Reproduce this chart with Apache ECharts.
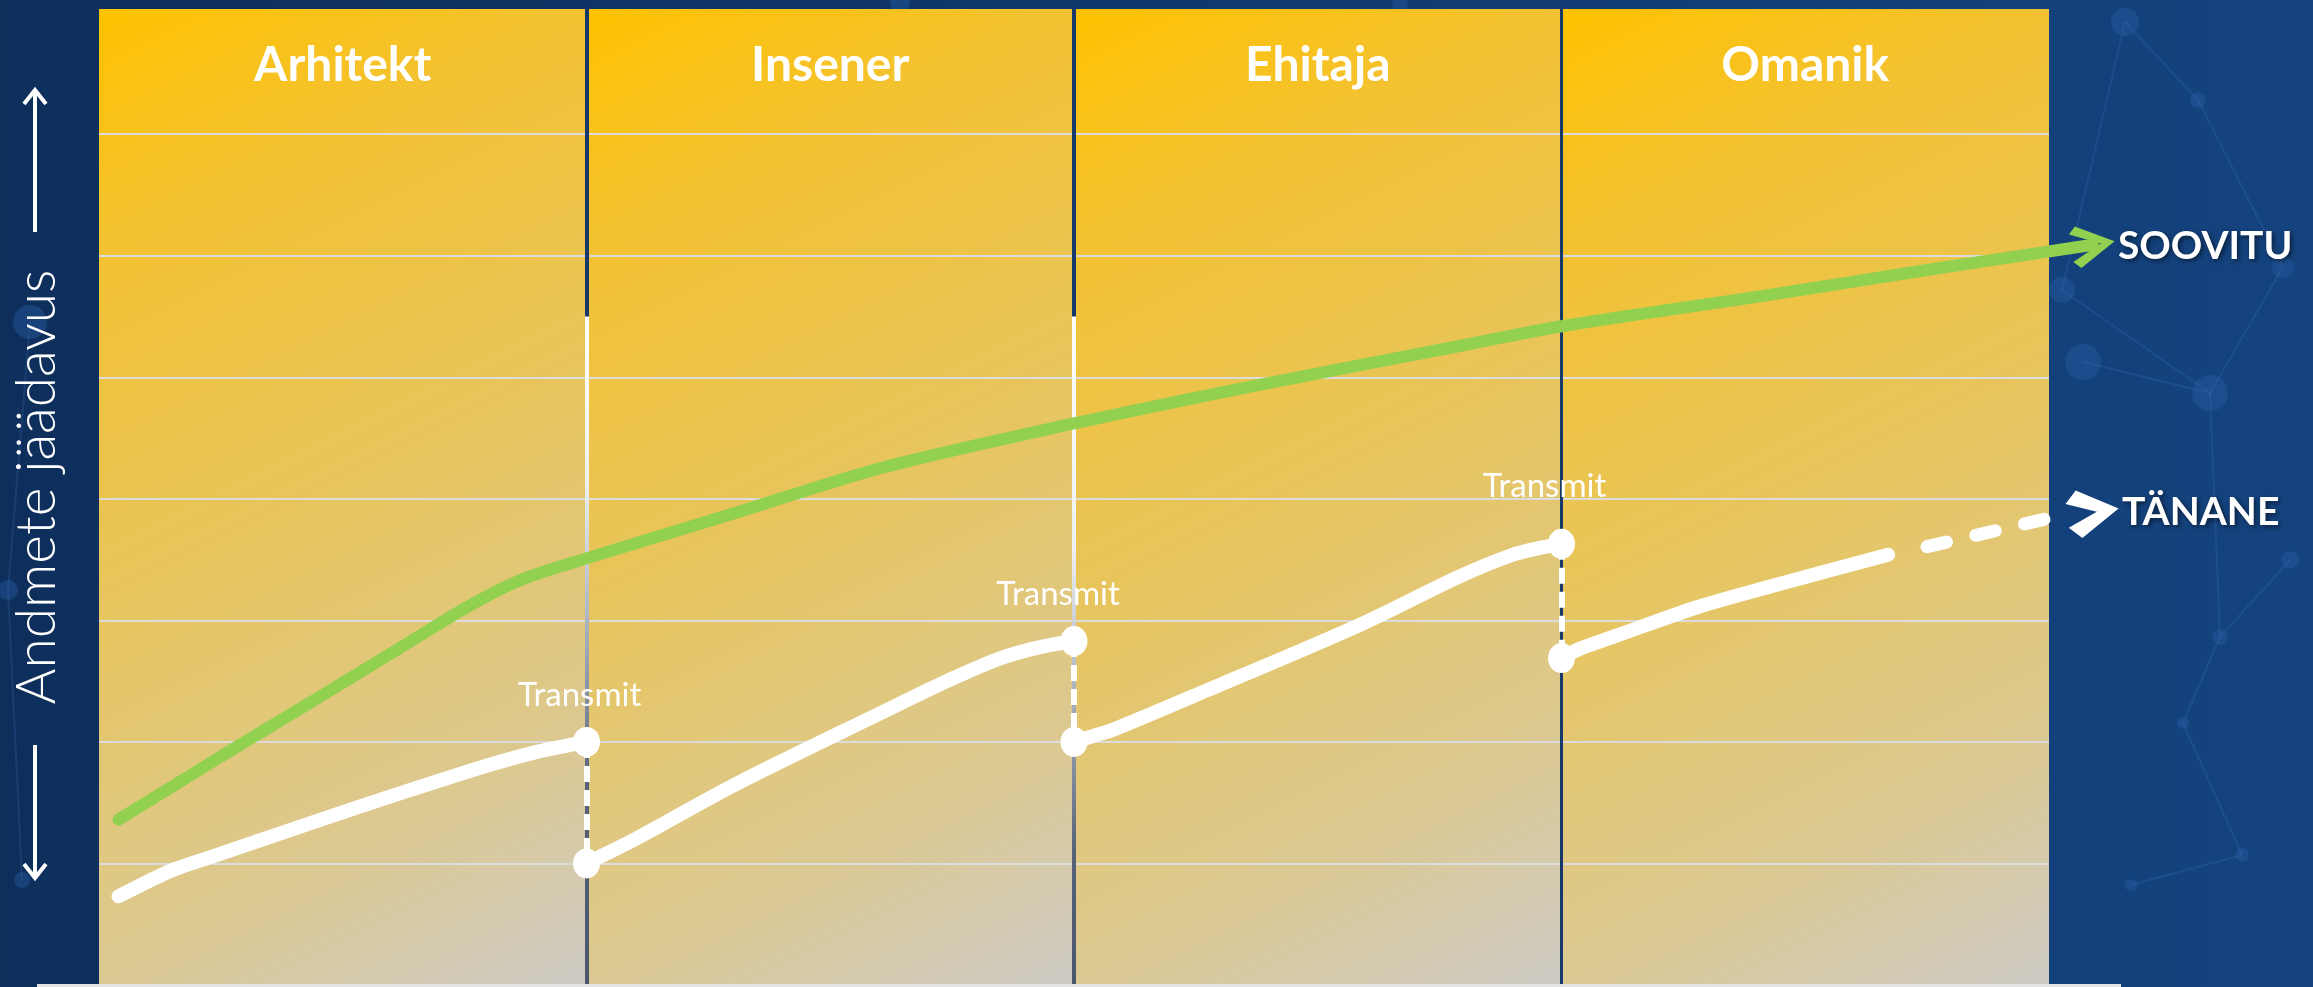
<!DOCTYPE html>
<html>
<head>
<meta charset="utf-8">
<script src="https://cdn.jsdelivr.net/npm/echarts@6/dist/echarts.min.js"></script>
<style>
  html, body { margin: 0; padding: 0; background: #10366a; }
  #chart { width: 2313px; height: 987px; }
</style>
</head>
<body>
<div id="chart"></div>
<script>
// ---------- data ----------
const columns = ['Arhitekt', 'Insener', 'Ehitaja', 'Omanik'];
const columnBounds = [0, 1, 2, 3, 4];
const yTicks = [0, 1, 2, 3, 4, 5, 6, 7, 8];

const soovituLine = [
  [0.04, 1.36], [0.25, 1.88], [0.44, 2.34], [0.62, 2.78], [0.76, 3.12], [0.87, 3.34],
  [1.00, 3.51], [1.31, 3.89], [1.61, 4.26], [2.00, 4.62], [2.37, 4.93], [2.82, 5.28],
  [3.00, 5.42], [3.43, 5.68], [3.73, 5.87], [4.09, 6.09]
];
const tananeSeg1 = [[0.04, 0.73], [0.12, 0.89], [0.16, 0.96], [0.25, 1.08], [0.44, 1.34], [0.62, 1.58], [0.80, 1.81], [0.90, 1.92], [0.96, 1.97], [1.00, 2.00]];
const tananeSeg2 = [[1.00, 1.00], [1.04, 1.08], [1.10, 1.20], [1.31, 1.66], [1.61, 2.25], [1.75, 2.52], [1.85, 2.69], [1.93, 2.78], [2.00, 2.83]];
const tananeSeg3 = [[2.00, 2.00], [2.04, 2.05], [2.08, 2.10], [2.27, 2.42], [2.59, 2.97], [2.79, 3.36], [2.90, 3.54], [2.96, 3.60], [3.00, 3.63]];
const tananeSeg4 = [[3.00, 2.69], [3.04, 2.77], [3.11, 2.87], [3.28, 3.11], [3.43, 3.28], [3.67, 3.54]];
const tananeDashed = [[3.69, 3.55], [4.01, 3.85]];
const tananeArrowPoint = [4.09, 3.89];
const transmitTop = [[1, 2.00], [2, 2.83], [3, 3.63]];
const transmitBottom = [[1, 1.00], [2, 2.00], [3, 2.69]];
const transmitLabel = 'Transmit';
const soovituLabel = 'SOOVITU';
const tananeLabel = 'TÄNANE';
const yName = 'Andmete jäädavus';

// ---------- styles ----------
const GREEN = '#92D050';
const WHITE = '#ffffff';
const NAVY = '#17396a';
const Y_TOP = 8.03;
const chevronGreen = 'path://M0,7 L7,0 L44,21 L7,42 L0,35 L30,21 Z';
const chevronWhite = 'path://M0,12 L12,0 L52,24 L12,48 L0,36 L30,24 Z';
const transmitLabelDistance = [15, 15, 26];
const transmitLabelShiftX = [-7, -16, -17];

const panelGradient = {
  type: 'linear', x: 0, y: 0, x2: 1, y2: 1,
  colorStops: [
    { offset: 0, color: '#FFC200' },
    { offset: 0.2, color: '#F3C232' },
    { offset: 0.5, color: '#E7C55E' },
    { offset: 0.8, color: '#DBC993' },
    { offset: 1, color: '#CECBC6' }
  ]
};
function dividerGradient(whiteEnd) {
  return {
    type: 'linear', x: 0, y: 0, x2: 0, y2: 1,
    colorStops: [
      { offset: 0, color: '#ffffff' },
      { offset: whiteEnd, color: '#eef0f2' },
      { offset: whiteEnd + 0.25, color: '#9ea6b4' },
      { offset: Math.min(1, whiteEnd + 0.45), color: '#56627a' },
      { offset: 1, color: '#4a566c' }
    ]
  };
}

const labelShadow = {
  textShadowColor: 'rgba(0,0,0,0.55)', textShadowBlur: 5, textShadowOffsetX: 2, textShadowOffsetY: 2
};

// background network decoration
const nodes = [
  [2125, 22, 14], [2198, 100, 8], [2283, 267, 11], [2062, 290, 13], [2083, 362, 18],
  [2210, 393, 18], [2220, 637, 8], [2183, 723, 6], [2242, 855, 7], [2131, 885, 6],
  [30, 322, 17], [8, 590, 10], [22, 880, 8], [900, 2, 10], [1400, 4, 8], [2290, 560, 9]
];
const links = [
  [0, 1], [1, 2], [3, 5], [4, 5], [2, 5], [5, 6], [6, 7], [7, 8], [8, 9], [6, 15], [10, 11], [11, 12], [0, 3]
];
const decoration = [];
nodes.forEach(n => decoration.push({
  type: 'circle', z: -10, silent: true,
  shape: { cx: n[0], cy: n[1], r: n[2] },
  style: { fill: 'rgba(40,95,165,0.40)' }
}));
links.forEach(l => decoration.push({
  type: 'line', z: -10, silent: true,
  shape: { x1: nodes[l[0]][0], y1: nodes[l[0]][1], x2: nodes[l[1]][0], y2: nodes[l[1]][1] },
  style: { stroke: 'rgba(60,110,180,0.25)', lineWidth: 2 }
}));
// y-axis arrows and base line
decoration.push(
  { type: 'line', silent: true, shape: { x1: 35, y1: 232, x2: 35, y2: 90 }, style: { stroke: WHITE, lineWidth: 4 } },
  { type: 'polyline', silent: true, shape: { points: [[24, 104], [35, 90], [46, 104]] }, style: { stroke: WHITE, lineWidth: 4, fill: null } },
  { type: 'line', silent: true, shape: { x1: 35, y1: 745, x2: 35, y2: 878 }, style: { stroke: WHITE, lineWidth: 4 } },
  { type: 'polyline', silent: true, shape: { points: [[24, 864], [35, 878], [46, 864]] }, style: { stroke: WHITE, lineWidth: 4, fill: null } },
  { type: 'rect', silent: true, z: 20, shape: { x: 37, y: 984, width: 2084, height: 3 }, style: { fill: '#e4e4e4' } }
);

const chart = echarts.init(document.getElementById('chart'), null, { renderer: 'canvas' });

const solidSeg = (data, name) => ({
  type: 'line', name: name, z: 5, data: data, smooth: 0.3, symbol: 'none', silent: true,
  clip: false,
  lineStyle: { color: WHITE, width: 14, cap: 'round' }
});

const option = {
  backgroundColor: {
    type: 'linear', x: 0, y: 0, x2: 1, y2: 0,
    colorStops: [
      { offset: 0, color: '#0e2f5c' },
      { offset: 0.5, color: '#10386c' },
      { offset: 1, color: '#14437f' }
    ]
  },
  animation: false,
  // x range extends past the last column so the arrows are not clipped
  grid: { left: 99, right: 20.25, top: 9, bottom: 2, containLabel: false },
  xAxis: {
    type: 'value', min: 0, max: 4.5, interval: 1,
    axisLine: { show: false }, axisTick: { show: false }, axisLabel: { show: false }, splitLine: { show: false }
  },
  yAxis: {
    type: 'value', min: yTicks[0], max: Y_TOP, interval: 1, z: 2,
    axisLine: { show: false }, axisTick: { show: false }, axisLabel: { show: false },
    splitLine: { show: false },
    name: yName, nameLocation: 'middle', nameRotate: 90, nameGap: 34,
    nameTextStyle: { color: WHITE, fontFamily: 'Lato', fontWeight: 300, fontSize: 55, padding: [0, 0, 0, 20] }
  },
  graphic: decoration,
  series: [
    {
      type: 'line', name: 'panel', z: 1, data: [], silent: true,
      markArea: {
        silent: true,
        itemStyle: { color: panelGradient, opacity: 1, borderWidth: 0 },
        label: {
          show: true, position: 'insideTop', distance: 33, formatter: '{b}',
          color: WHITE, fontFamily: 'Lato', fontWeight: 'bold', fontSize: 48
        },
        data: columns.map((c, i) => [{ name: c, xAxis: columnBounds[i], yAxis: 0 }, { xAxis: columnBounds[i + 1], yAxis: Y_TOP }])
      }
    },
    {
      type: 'line', name: 'gridlines', z: 2, data: [], silent: true,
      markLine: {
        silent: true, symbol: ['none', 'none'], label: { show: false },
        lineStyle: { color: '#dcdcdc', width: 2, type: 'solid' },
        data: yTicks.slice(1, -1).map(v => [{ coord: [columnBounds[0], v] }, { coord: [columnBounds[4], v] }])
      }
    },
    {
      type: 'line', name: 'dividers', z: 3, data: [], silent: true,
      markLine: {
        silent: true, symbol: ['none', 'none'], label: { show: false },
        data: [
          [{ coord: [columnBounds[1], Y_TOP], lineStyle: { color: NAVY, width: 4, type: 'solid' } }, { coord: [columnBounds[1], 0] }],
          [{ coord: [columnBounds[2], Y_TOP], lineStyle: { color: NAVY, width: 4, type: 'solid' } }, { coord: [columnBounds[2], 0] }],
          [{ coord: [columnBounds[3], Y_TOP], lineStyle: { color: NAVY, width: 3, type: 'solid' } }, { coord: [columnBounds[3], 0] }],
          [{ coord: [columnBounds[1], 5.5], lineStyle: { color: dividerGradient(0.25), width: 4, type: 'solid' } }, { coord: [columnBounds[1], 0] }],
          [{ coord: [columnBounds[2], 5.5], lineStyle: { color: dividerGradient(0.35), width: 4, type: 'solid' } }, { coord: [columnBounds[2], 0] }]
        ]
      }
    },
    {
      type: 'line', name: 'SOOVITU', z: 5, smooth: 0.3, silent: true, clip: false,
      symbol: 'none', showSymbol: true,
      lineStyle: { color: GREEN, width: 12, cap: 'round' },
      data: soovituLine.map((p, i) => i === soovituLine.length - 1 ? {
        value: p, symbol: chevronGreen, symbolSize: [44, 42], symbolRotate: 9,
        itemStyle: { color: GREEN },
        label: {
          show: true, position: 'right', distance: 0, formatter: soovituLabel,
          color: WHITE, fontFamily: 'Lato', fontWeight: 'bold', fontSize: 39, offset: [0, 2], ...labelShadow
        }
      } : { value: p, symbol: 'none' })
    },
    solidSeg(tananeSeg1, 'seg1'),
    solidSeg(tananeSeg2, 'seg2'),
    solidSeg(tananeSeg3, 'seg3'),
    solidSeg(tananeSeg4, 'seg4'),
    {
      type: 'line', name: 'dashed', z: 5, data: tananeDashed, symbol: 'none', silent: true, clip: false,
      lineStyle: { color: WHITE, width: 13, type: [20, 30], dashOffset: 20, cap: 'round' }
    },
    {
      type: 'scatter', name: 'TÄNANE', z: 6, silent: true, clip: false,
      data: [{
        value: tananeArrowPoint, symbol: chevronWhite, symbolSize: [52, 48], symbolRotate: 8,
        label: {
          show: true, position: 'right', distance: 0, formatter: tananeLabel,
          color: WHITE, fontFamily: 'Lato', fontWeight: 'bold', fontSize: 39, offset: [0, 0], ...labelShadow
        }
      }],
      itemStyle: { color: WHITE, opacity: 1 }
    },
    {
      type: 'scatter', name: 'transmitTop', z: 6, silent: true,
      data: transmitTop.map((p, i) => ({
        value: p,
        label: { distance: transmitLabelDistance[i], offset: [transmitLabelShiftX[i], 0] }
      })),
      symbol: 'circle', symbolSize: [27, 30],
      itemStyle: { color: WHITE, opacity: 1 },
      label: {
        show: true, position: 'top', formatter: transmitLabel,
        color: WHITE, fontFamily: 'Lato', fontWeight: 'normal', fontSize: 33
      },
      markLine: {
        silent: true, symbol: ['none', 'none'], label: { show: false },
        lineStyle: { color: WHITE, width: 6, type: [16, 8], cap: 'butt' },
        data: transmitTop.map((p, i) => [{ coord: p }, { coord: transmitBottom[i] }])
      }
    },
    {
      type: 'scatter', name: 'transmitBottom', z: 6, silent: true,
      data: transmitBottom, symbol: 'circle', symbolSize: [27, 30],
      itemStyle: { color: WHITE, opacity: 1 }
    }
  ]
};
chart.setOption(option);
</script>
</body>
</html>
